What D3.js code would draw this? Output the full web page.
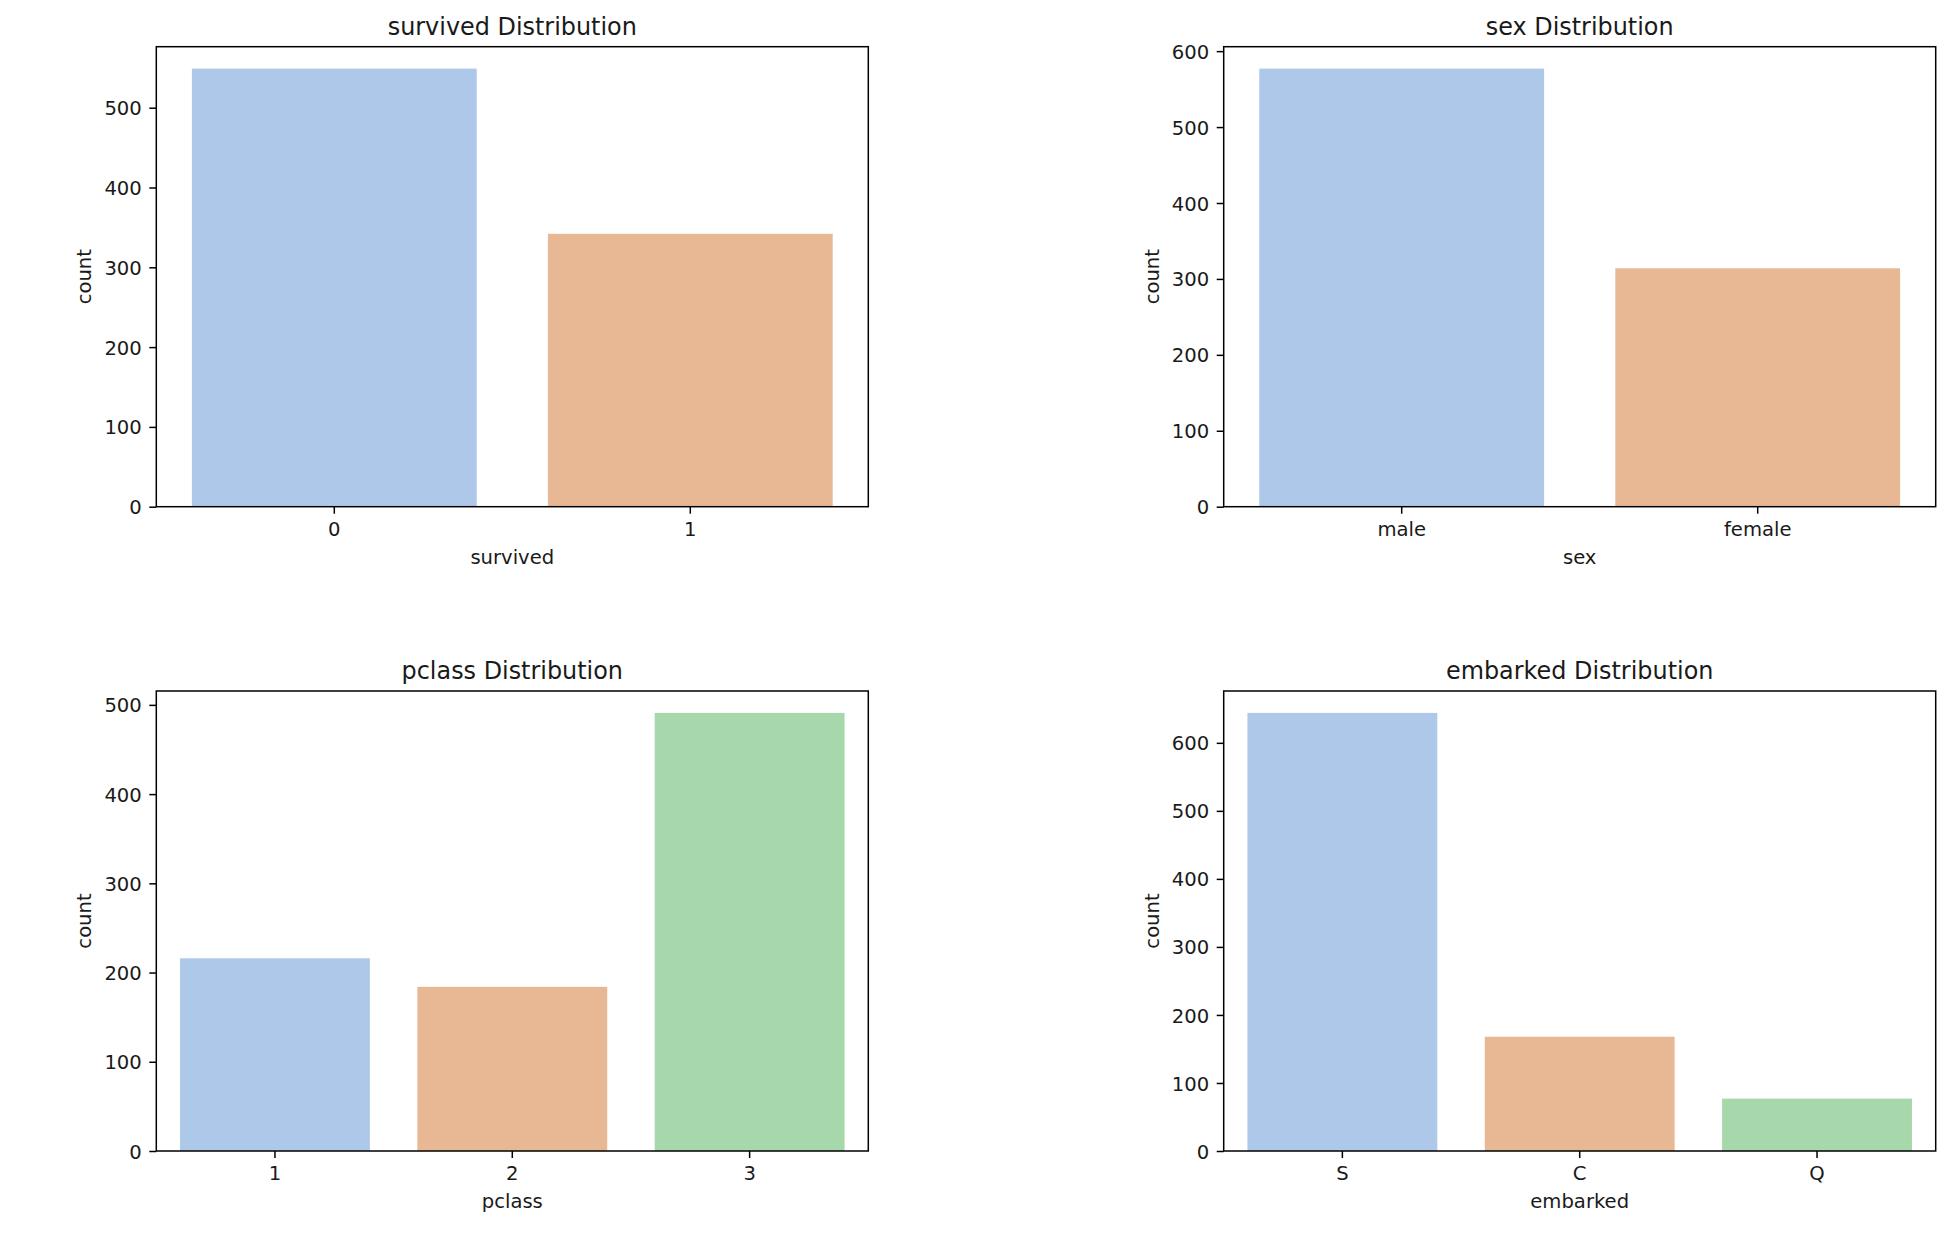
<!DOCTYPE html>
<html>
<head>
<meta charset="utf-8">
<script src="https://cdn.jsdelivr.net/npm/d3@7"></script>
<style>
  body { margin: 0; background: #fff; }
  svg { display: block; }
</style>
</head>
<body>
<div id="chart"></div>
<script>
// ---- data ----
var survivedCategories = ['0', '1'];
var survivedCounts = [549, 342];

var sexCategories = ['male', 'female'];
var sexCounts = [577, 314];

var pclassCategories = ['1', '2', '3'];
var pclassCounts = [216, 184, 491];

var embarkedCategories = ['S', 'C', 'Q'];
var embarkedCounts = [644, 168, 77];

var survivedTicks = [0, 100, 200, 300, 400, 500];
var sexTicks = [0, 100, 200, 300, 400, 500, 600];
var pclassTicks = [0, 100, 200, 300, 400, 500];
var embarkedTicks = [0, 100, 200, 300, 400, 500, 600];

var palette = ['#aec8e9', '#e8b895', '#a7d8ab'];

function renderCountPlot(params) {

  // Exposed variables
  var attrs = {
    svg: null,
    left: 0,
    top: 0,
    width: 712,
    height: 460,
    fontSize: 19.6,
    titleSize: 23.9,
    textFill: '#1a1a1a',
    font: 'DejaVu Sans',
    name: '',
    categories: [],
    counts: [],
    ticks: []
  };
  Object.keys(params).forEach(function (k) { attrs[k] = params[k]; });

  var g = attrs.svg.append('g')
    .attr('transform', 'translate(' + attrs.left + ',' + attrs.top + ')')
    .attr('font-family', attrs.font);

  var x = d3.scaleBand()
    .domain(attrs.categories)
    .range([0, attrs.width])
    .paddingInner(0.2)
    .paddingOuter(0.1);

  // matplotlib leaves 5% headroom above the tallest bar
  var y = d3.scaleLinear()
    .domain([0, d3.max(attrs.counts) * 1.05])
    .range([attrs.height, 0]);

  // bars
  g.selectAll('rect.bar')
    .data(attrs.categories)
    .enter()
    .append('rect')
    .attr('class', 'bar')
    .attr('x', function (d) { return x(d); })
    .attr('width', x.bandwidth())
    .attr('y', function (d, i) { return y(attrs.counts[i]); })
    .attr('height', function (d, i) { return attrs.height - y(attrs.counts[i]); })
    .attr('fill', function (d, i) { return palette[i % palette.length]; });

  // axes
  var yAxis = g.append('g')
    .call(d3.axisLeft(y).tickValues(attrs.ticks).tickSize(7).tickPadding(7.5).tickFormat(d3.format('d')));
  var xAxis = g.append('g')
    .attr('transform', 'translate(0,' + attrs.height + ')')
    .call(d3.axisBottom(x).tickSize(7).tickPadding(8.3));

  [xAxis, yAxis].forEach(function (ax) {
    ax.select('.domain').remove();
    ax.selectAll('.tick line').attr('stroke', '#000').attr('stroke-width', 1.5);
    ax.selectAll('.tick text')
      .attr('fill', attrs.textFill)
      .attr('font-size', attrs.fontSize)
      .attr('font-family', attrs.font);
  });
  yAxis.selectAll('.tick text').attr('dy', '0.36em');

  // frame
  g.append('rect')
    .attr('width', attrs.width)
    .attr('height', attrs.height)
    .attr('fill', 'none')
    .attr('stroke', '#000')
    .attr('stroke-width', 1.5);

  // title
  g.append('text')
    .attr('x', attrs.width / 2)
    .attr('y', -11.7)
    .attr('text-anchor', 'middle')
    .attr('font-size', attrs.titleSize)
    .attr('fill', attrs.textFill)
    .text(attrs.name + ' Distribution');

  // axis labels
  g.append('text')
    .attr('x', attrs.width / 2)
    .attr('y', attrs.height + 57)
    .attr('text-anchor', 'middle')
    .attr('font-size', attrs.fontSize)
    .attr('fill', attrs.textFill)
    .text(attrs.name);

  g.append('text')
    .attr('transform', 'translate(-65,' + attrs.height / 2 + ') rotate(-90)')
    .attr('text-anchor', 'middle')
    .attr('font-size', attrs.fontSize)
    .attr('fill', attrs.textFill)
    .text('count');

  return g;
}

var svg = d3.select('#chart').append('svg')
  .attr('width', 1960)
  .attr('height', 1254);

svg.append('rect').attr('width', 1960).attr('height', 1254).attr('fill', '#fff');

var colLeft = [156.3, 1223.7];
var rowTop = [46.7, 691];

renderCountPlot({ svg: svg, left: colLeft[0], top: rowTop[0], name: 'survived',
  categories: survivedCategories, counts: survivedCounts, ticks: survivedTicks });
renderCountPlot({ svg: svg, left: colLeft[1], top: rowTop[0], name: 'sex',
  categories: sexCategories, counts: sexCounts, ticks: sexTicks });
renderCountPlot({ svg: svg, left: colLeft[0], top: rowTop[1], name: 'pclass',
  categories: pclassCategories, counts: pclassCounts, ticks: pclassTicks });
renderCountPlot({ svg: svg, left: colLeft[1], top: rowTop[1], name: 'embarked',
  categories: embarkedCategories, counts: embarkedCounts, ticks: embarkedTicks });
</script>
</body>
</html>
